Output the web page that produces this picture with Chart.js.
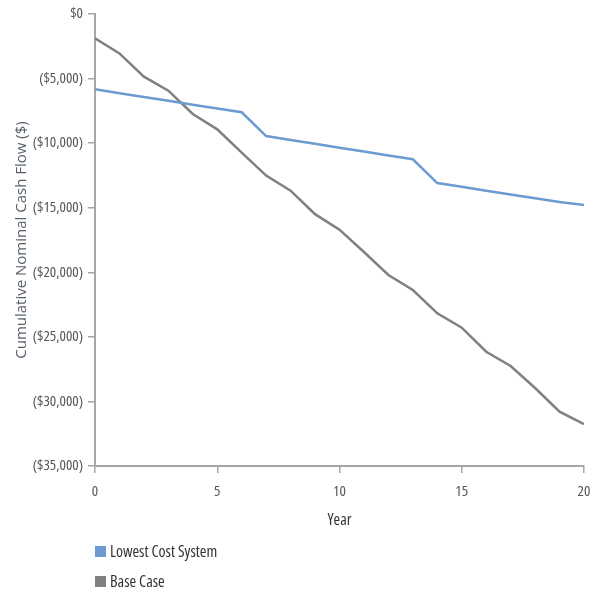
<!DOCTYPE html>
<html>
<head>
<meta charset="utf-8">
<script src="https://cdn.jsdelivr.net/npm/chart.js@4.4.1/dist/chart.umd.min.js"></script>
<style>
  html, body { margin: 0; padding: 0; background: #fff; }
  #wrap { position: relative; width: 595px; height: 593px; }
  #legend { position: absolute; left: 95px; top: 542px; font-family: 'Open Sans', sans-serif; font-stretch: condensed; font-size: 16px; color: #333; }
  #legend .item { display: flex; align-items: center; height: 18px; margin-bottom: 12px; white-space: nowrap; }
  #legend .box { width: 11px; height: 11px; margin-right: 4px; }
</style>
</head>
<body>
<div id="wrap">
  <canvas id="chart"></canvas>
  <div id="legend"></div>
</div>
<script>
// Cumulative nominal cash flow by project year
const years = [0, 1, 2, 3, 4, 5, 6, 7, 8, 9, 10, 11, 12, 13, 14, 15, 16, 17, 18, 19, 20];
const lowestCostSystem = [-5830, -6130, -6420, -6720, -7020, -7310, -7610, -9450, -9750, -10050, -10350,
                          -10650, -10950, -11250, -13090, -13380, -13680, -13970, -14270, -14560, -14790];
const baseCase = [-1880, -3050, -4850, -5940, -7740, -8930, -10740, -12510, -13680, -15500, -16700,
                  -18430, -20210, -21370, -23180, -24290, -26150, -27260, -28960, -30790, -31750];
const seriesNames = ['Lowest Cost System', 'Base Case'];
const seriesColors = ['#6b9bd1', '#808080'];
const yTicks = [0, -5000, -10000, -15000, -20000, -25000, -30000, -35000];
const xTicks = [0, 5, 10, 15, 20];

// condensed face for tick labels and the x-axis title
const narrowFont = { family: "'Open Sans', sans-serif", weight: 'normal condensed', size: 15 };

function money(v) {
  if (v === 0) return '$0';
  const s = '$' + Math.abs(v).toLocaleString('en-US');
  return v < 0 ? '(' + s + ')' : s;
}

const htmlLegend = {
  id: 'htmlLegend',
  afterUpdate(chart) {
    const box = document.getElementById('legend');
    box.innerHTML = '';
    chart.data.datasets.forEach(ds => {
      const item = document.createElement('div');
      item.className = 'item';
      const sw = document.createElement('span');
      sw.className = 'box';
      sw.style.background = ds.borderColor;
      const tx = document.createElement('span');
      tx.textContent = ds.label;
      item.appendChild(sw);
      item.appendChild(tx);
      box.appendChild(item);
    });
  }
};

const axisGray = '#a6a6a6';

new Chart(document.getElementById('chart'), {
  type: 'line',
  data: {
    datasets: [
      {
        label: seriesNames[0],
        data: years.map((x, i) => ({ x, y: lowestCostSystem[i] })),
        borderColor: seriesColors[0],
        backgroundColor: seriesColors[0],
        borderWidth: 2.5,
        pointRadius: 0,
        tension: 0,
        fill: false
      },
      {
        label: seriesNames[1],
        data: years.map((x, i) => ({ x, y: baseCase[i] })),
        borderColor: seriesColors[1],
        backgroundColor: seriesColors[1],
        borderWidth: 2.5,
        pointRadius: 0,
        tension: 0,
        fill: false
      }
    ]
  },
  options: {
    responsive: true,
    maintainAspectRatio: false,
    animation: false,
    layout: { padding: { top: 14, right: 11, bottom: 63, left: 0 } },
    plugins: {
      legend: { display: false },
      tooltip: { enabled: false }
    },
    scales: {
      x: {
        type: 'linear',
        min: 0,
        max: 20,
        afterBuildTicks(scale) { scale.ticks = xTicks.map(v => ({ value: v })); },
        afterFit(scale) { scale.height = 64; scale.paddingLeft = 0; scale.paddingRight = 0; },
        grid: { drawOnChartArea: false, drawTicks: true, tickLength: 7, color: axisGray, lineWidth: 1.5 },
        border: { color: axisGray, width: 2 },
        ticks: { padding: 10, color: '#555', maxRotation: 0, font: narrowFont },
        title: { display: true, text: 'Year', color: '#333', padding: { top: 0, bottom: 0 }, font: Object.assign({}, narrowFont, { size: 16 }) }
      },
      y: {
        type: 'linear',
        min: -35000,
        max: 0,
        afterBuildTicks(scale) { scale.ticks = yTicks.map(v => ({ value: v })); },
        afterFit(scale) { scale.width = 95; },
        grid: { drawOnChartArea: false, drawTicks: true, tickLength: 7, color: axisGray, lineWidth: 1.5 },
        border: { color: axisGray, width: 2 },
        ticks: { padding: 5, color: '#555', callback: v => money(v), font: narrowFont },
        title: { display: true, text: 'Cumulative Nominal Cash Flow ($)', color: '#56606b', padding: { top: 13, bottom: 0 }, font: { family: "'Open Sans', sans-serif", size: 15 } }
      }
    }
  },
  plugins: [htmlLegend]
});
</script>
</body>
</html>
